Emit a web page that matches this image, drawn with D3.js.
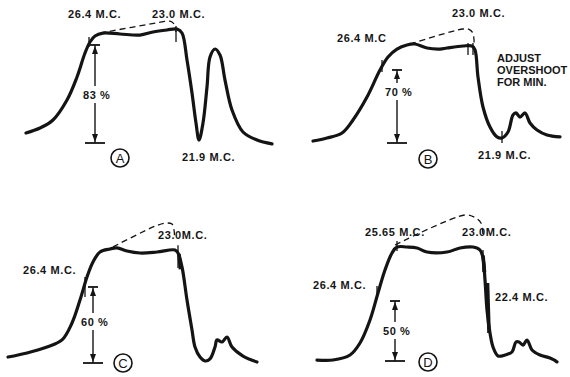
<!DOCTYPE html>
<html>
<head>
<meta charset="utf-8">
<script src="https://cdn.jsdelivr.net/npm/d3@7"></script>
<style>
  html, body { margin: 0; padding: 0; background: #fff; }
  svg { display: block; }
  text { font-family: "Liberation Sans", Arial, sans-serif; font-weight: 700; fill: #161616; font-size: 11px; letter-spacing: 0.6px; }
  text.note { letter-spacing: 0; }
</style>
</head>
<body>
<svg id="chart" width="570" height="377"></svg>
<script>
// Four sweep responses of the video IF strip, A to D.
// Each trace: [sweep position, response in % of the measuring reference]
const panels = ["A", "B", "C", "D"];

const traceA = [[26,8.5],[40,12.7],[53,19.5],[67,36.4],[77,55.9],[85,76.2],[90,85.5],[95,90.6],[103,93.1],[120,92.3],[140,91.4],[153,94.0],[167,95.7],[177,96.5],[182,93.1],[187,70.3],[192,42.3],[196,16.9],[199,2.5],[203,16.9],[207,47.4],[210,72.8],[215,79.6],[220,74.5],[225,53.3],[232,27.9],[243,9.3],[257,2.5],[272,-0.8]];
const traceB = [[28,1.9],[42,4.8],[57,9.6],[68,22.1],[82,44.1],[95,70.0],[103,82.5],[112,90.1],[122,94.0],[130,94.9],[142,91.1],[155,90.1],[162,91.1],[178,93.0],[187,93.0],[190,89.2],[193,63.3],[198,34.5],[205,15.3],[212,5.8],[217,4.8],[223,10.5],[228,26.8],[231,28.8],[235,24.9],[240,28.8],[245,19.2],[252,12.5],[262,7.7],[275,5.8]];
const traceC = [[8,4.7],[27,7.9],[47,12.6],[62,18.2],[72,31.6],[80,49.7],[87,67.9],[93,79.7],[100,87.6],[110,90.0],[117,90.8],[127,88.4],[140,86.8],[157,87.6],[175,89.2],[178,86.8],[182,75.8],[187,49.7],[192,26.0],[195,12.6],[200,4.7],[205,1.6],[210,3.2],[215,12.6],[217,18.2],[222,16.6],[227,20.5],[232,12.6],[243,5.5],[257,0.8]];
const traceD = [[32,0.8],[48,0.8],[65,5.0],[75,15.0],[85,34.2],[93,56.7],[100,75.8],[107,90.0],[112,95.0],[122,95.0],[132,94.2],[142,90.8],[162,90.8],[175,94.2],[188,95.0],[195,92.5],[198,85.8],[200,67.5],[202,42.5],[205,23.3],[208,11.7],[213,4.2],[220,5.0],[227,7.5],[231,15.8],[234,15.8],[238,13.3],[242,17.5],[247,9.2],[255,5.0],[265,2.5],[272,-0.8]];

// Dashed overshoot of the high-frequency corner
const overshootA = [[100,93.1],[162,102.5],[168,103.3],[172,102.5],[174.5,99.9],[176,94.0]];
const overshootB = [[125,94.9],[178,109.3],[184,109.0],[187.5,106.0],[189,99.0],[189,94.0]];
const overshootC = [[113,91.6],[158,108.9],[167,110.5],[172,109.7],[174,105.0],[174.5,100.0]];
const overshootD = [[110,96.7],[180,121.7],[189,120.0],[196,115.0],[198,103.0]];

// Marker pips on the trace: [sweep position, top %, bottom %]
const pipsA = [[89,89.8,81.3],[176,99.1,85.5]];
const pipsB = [[97,79.6,68.1],[183,95.9,84.4],[188,95.9,84.4],[217,11.5,0]];
const pipsC = [[85,67.9,52.1],[178,93.0,75.0]];
const pipsD = [[112,100.0,91.7],[92,62.5,52.5],[198,92.5,74.2]];
// Heavy marker bands drawn over the trace
const bandsC = [[179,86.0,74.0]];
const bandsD = [[198,88.0,74.0],[202.5,65.0,23.3]];

// Measured response at the 26.4 M.C. point
const measurePct = [83, 70, 60, 50];
const measureAt = [95, 112, 93, 110];
const measureLabelPct = [40.6, 48.9, 32.4, 25.0];

// Frequency labels: [text, sweep position, %]
const labelsA = [["26.4 M.C.",68,105.8],["23.0 M.C.",152,105.8],["21.9 M.C.",182,-15.2]];
const labelsB = [["26.4 M.C",52,96.8],["23.0 M.C.",167,120.8],["21.9 M.C.",193,-15.3]];
const notesB = [["ADJUST",212,77.7],["OVERSHOOT",212,66.2],["FOR MIN.",212,54.6]];
const labelsC = [["26.4 M.C.",23,70.2],["23.0M.C.",158,97.9]];
const labelsD = [["25.65 M.C.",80,104.2],["26.4  M.C.",28,60.0],["23.0M.C.",177,104.2],["22.4 M.C.",210,50.0]];
// Panel letter badge position: [sweep position, %]
const badgeAt = [[120,-12.7],[143,-15.3],[123,0],[143,-0.8]];

const traces = [traceA, traceB, traceC, traceD];
const overshoots = [overshootA, overshootB, overshootC, overshootD];
const pips = [pipsA, pipsB, pipsC, pipsD];
const bands = [[], [], bandsC, bandsD];
const labels = [labelsA, labelsB, labelsC, labelsD];
const notes = [[], notesB, [], []];

// Frame of each panel: left edge, baseline, pixels per percent
const frames = [
  {ox: 0,   base: 143, k: 1.181},
  {ox: 285, base: 143, k: 1.043},
  {ox: 0,   base: 363, k: 1.267},
  {ox: 285, base: 361, k: 1.2}
];

const ink = "#141414";
const svg = d3.select("#chart");

panels.forEach((id, i) => {
  const f = frames[i];
  const x = d3.scaleLinear().domain([0, 285]).range([f.ox, f.ox + 285]);
  const y = d3.scaleLinear().domain([0, 100]).range([f.base, f.base - 100 * f.k]);
  const g = svg.append("g").attr("class", "panel-" + id);

  const smooth = d3.line().x(d => x(d[0])).y(d => y(d[1])).curve(d3.curveCatmullRom.alpha(0.5));

  g.append("path").attr("d", smooth(overshoots[i]))
    .attr("fill", "none").attr("stroke", ink).attr("stroke-width", 1.3)
    .attr("stroke-dasharray", "6,4");

  g.append("path").attr("d", smooth(traces[i]))
    .attr("fill", "none").attr("stroke", ink).attr("stroke-width", 3.2)
    .attr("stroke-linejoin", "round").attr("stroke-linecap", "round");

  g.selectAll(".pip").data(pips[i]).join("line").attr("class", "pip")
    .attr("x1", d => x(d[0])).attr("x2", d => x(d[0]))
    .attr("y1", d => y(d[1])).attr("y2", d => y(d[2]))
    .attr("stroke", ink).attr("stroke-width", 1.3);

  g.selectAll(".band").data(bands[i]).join("line").attr("class", "band")
    .attr("x1", d => x(d[0])).attr("x2", d => x(d[0]) + 1.5)
    .attr("y1", d => y(d[1])).attr("y2", d => y(d[2]))
    .attr("stroke", ink).attr("stroke-width", 3.6);

  // Measuring arrow from the baseline up to the 26.4 M.C. level
  const xm = x(measureAt[i]), y0 = y(0), y1 = y(measurePct[i]), yl = y(measureLabelPct[i]);
  const a = g.append("g").attr("stroke", ink).attr("stroke-width", 1.4);
  a.append("line").attr("x1", xm).attr("x2", xm).attr("y1", y1).attr("y2", yl - 9);
  a.append("line").attr("x1", xm).attr("x2", xm).attr("y1", yl + 8).attr("y2", y0);
  a.append("line").attr("x1", xm - 5).attr("x2", xm + 5).attr("y1", y1).attr("y2", y1).attr("stroke-width", 1.8);
  a.append("line").attr("x1", xm - 10).attr("x2", xm + 10).attr("y1", y0).attr("y2", y0).attr("stroke-width", 1.8);
  g.append("path").attr("d", `M${xm},${y1 + 1}L${xm - 3},${y1 + 9}L${xm + 3},${y1 + 9}Z`).attr("fill", ink);
  g.append("path").attr("d", `M${xm},${y0 - 1}L${xm - 3},${y0 - 9}L${xm + 3},${y0 - 9}Z`).attr("fill", ink);
  g.append("text").attr("x", xm - 12).attr("y", yl + 4).text(measurePct[i] + " %");

  g.selectAll(".freq").data(labels[i]).join("text").attr("class", "freq")
    .attr("x", d => x(d[1])).attr("y", d => y(d[2])).text(d => d[0]);

  g.selectAll(".note").data(notes[i]).join("text").attr("class", "note")
    .attr("x", d => x(d[1])).attr("y", d => y(d[2])).text(d => d[0]);

  const b = badgeAt[i];
  g.append("circle").attr("cx", x(b[0])).attr("cy", y(b[1])).attr("r", 9)
    .attr("fill", "none").attr("stroke", ink).attr("stroke-width", 1.6);
  g.append("text").attr("x", x(b[0])).attr("y", y(b[1]) + 4.8)
    .attr("text-anchor", "middle").style("font-size", "13px").style("font-weight", 400)
    .style("letter-spacing", "0").text(id);
});
</script>
</body>
</html>
